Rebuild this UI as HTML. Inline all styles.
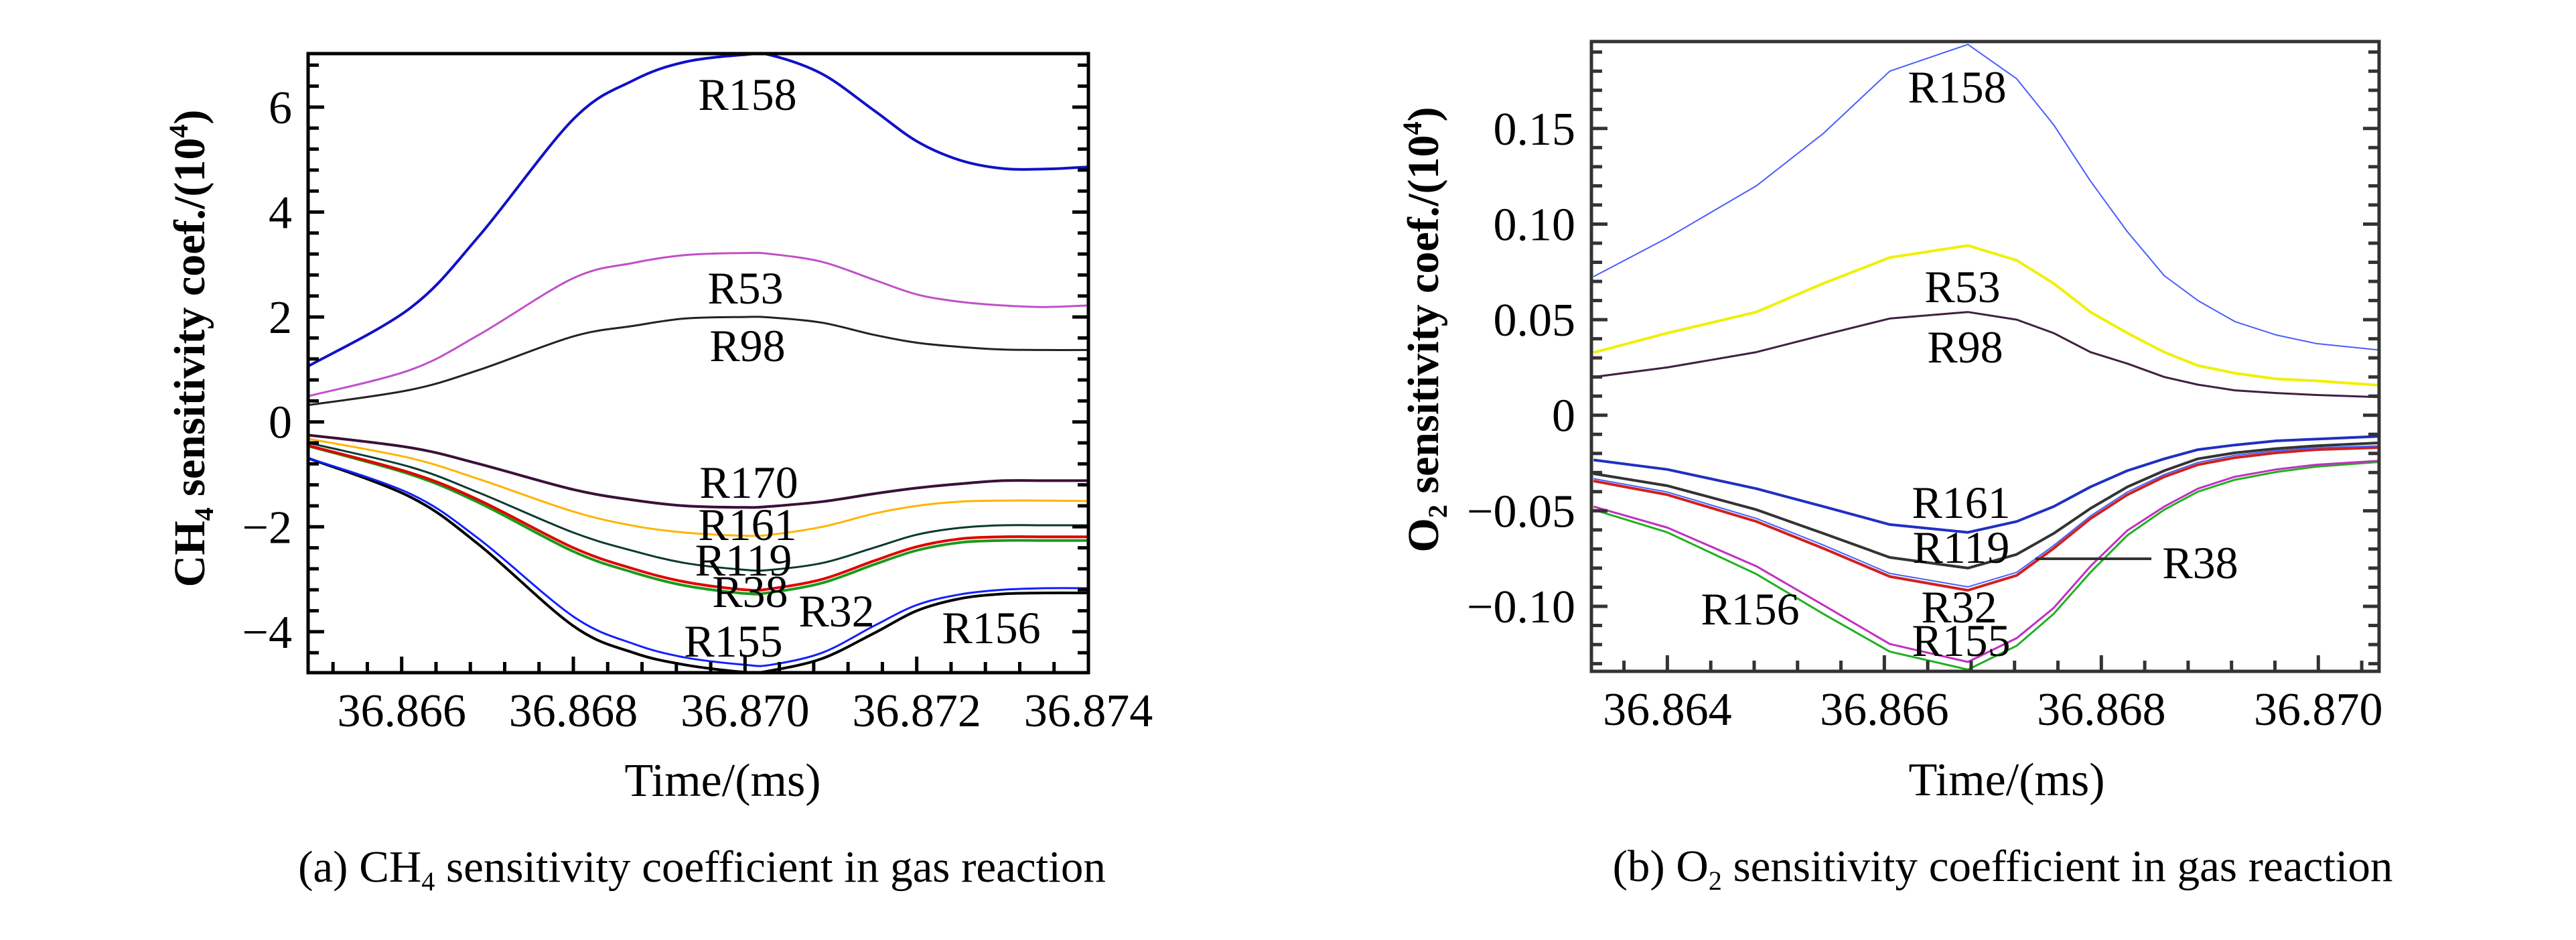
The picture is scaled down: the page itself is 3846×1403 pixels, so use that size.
<!DOCTYPE html>
<html><head><meta charset="utf-8">
<style>
html,body{margin:0;padding:0;background:#fff;}
svg{display:block;font-family:"Liberation Serif",serif;}
</style></head>
<body>
<svg id="fig" width="3846" height="1403" viewBox="0 0 3846 1403" xmlns="http://www.w3.org/2000/svg">
  <g id="pa"></g>
  <g id="pb"></g>
  <text x="0" y="0" transform="translate(305,520) rotate(-90)" text-anchor="middle" font-size="66" font-weight="bold">CH<tspan font-size="40" dy="13">4</tspan><tspan dy="-13"> sensitivity coef./(10</tspan><tspan font-size="40" dy="-25">4</tspan><tspan dy="25">)</tspan></text>
  <text x="1079" y="1188" text-anchor="middle" font-size="70">Time/(ms)</text>
  <text x="1048" y="1316" text-anchor="middle" font-size="67">(a) CH<tspan font-size="40" dy="13">4</tspan><tspan dy="-13"> sensitivity coefficient in gas reaction</tspan></text>
  <text x="0" y="0" transform="translate(2147,492) rotate(-90)" text-anchor="middle" font-size="66" font-weight="bold">O<tspan font-size="40" dy="13">2</tspan><tspan dy="-13"> sensitivity coef./(10</tspan><tspan font-size="40" dy="-25">4</tspan><tspan dy="25">)</tspan></text>
  <text x="2996" y="1187" text-anchor="middle" font-size="70">Time/(ms)</text>
  <text x="2990" y="1315" text-anchor="middle" font-size="67">(b) O<tspan font-size="40" dy="13">2</tspan><tspan dy="-13"> sensitivity coefficient in gas reaction</tspan></text>
</svg>
<script>
// ---- Chart (a) CH4 data ----
const timeA = [36.86491, 36.8661, 36.8669, 36.8680, 36.8687, 36.8693, 36.8700, 36.8703, 36.8709, 36.8715, 36.8720, 36.8725, 36.8730, 36.8735, 36.8740];
const aR158 = [1.06, 2.17, 3.54, 5.77, 6.51, 6.86, 7.0, 6.99, 6.63, 5.94, 5.35, 4.99, 4.83, 4.82, 4.86];
const aR53  = [0.49, 0.99, 1.66, 2.74, 3.03, 3.18, 3.22, 3.2, 3.05, 2.71, 2.43, 2.29, 2.22, 2.19, 2.22];
const aR98  = [0.32, 0.61, 0.99, 1.63, 1.83, 1.97, 2.0, 1.99, 1.89, 1.66, 1.51, 1.43, 1.38, 1.37, 1.37];
const aR170 = [-0.25, -0.49, -0.8, -1.29, -1.49, -1.6, -1.63, -1.61, -1.52, -1.37, -1.26, -1.18, -1.12, -1.12, -1.12];
const aR161 = [-0.32, -0.69, -1.09, -1.71, -1.98, -2.11, -2.17, -2.15, -2.0, -1.75, -1.6, -1.52, -1.5, -1.5, -1.51];
const aR119 = [-0.4, -0.86, -1.35, -2.11, -2.46, -2.69, -2.82, -2.82, -2.69, -2.4, -2.15, -2.02, -1.97, -1.97, -1.97];
const aR38  = [-0.45, -0.97, -1.49, -2.4, -2.8, -3.05, -3.2, -3.18, -3.0, -2.65, -2.38, -2.23, -2.19, -2.19, -2.19];
const aR32  = [-0.46, -1.0, -1.54, -2.47, -2.87, -3.12, -3.27, -3.25, -3.07, -2.72, -2.45, -2.3, -2.26, -2.26, -2.26];
const aR155 = [-0.69, -1.37, -2.23, -3.71, -4.23, -4.49, -4.63, -4.63, -4.4, -3.89, -3.49, -3.29, -3.2, -3.17, -3.17];
const aR156 = [-0.69, -1.43, -2.34, -3.89, -4.4, -4.63, -4.77, -4.74, -4.51, -4.03, -3.6, -3.37, -3.28, -3.26, -3.26];
const aXTicks = [36.866, 36.868, 36.870, 36.872, 36.874];
const aXTickLabels = ["36.866", "36.868", "36.870", "36.872", "36.874"];
const aYTicks = [-4, -2, 0, 2, 4, 6];
const aYTickLabels = ["\u22124", "\u22122", "0", "2", "4", "6"];

// ---- Chart (b) O2 data ----
const timeB = [36.86332, 36.864, 36.86482, 36.86544, 36.86605, 36.86677, 36.86722, 36.86756, 36.8679, 36.86824, 36.86858, 36.86889, 36.86923, 36.86961, 36.86998, 36.87058];
const bR158 = [0.0725, 0.0928, 0.12, 0.1475, 0.18, 0.194, 0.176, 0.152, 0.1225, 0.096, 0.073, 0.06, 0.049, 0.042, 0.0375, 0.034];
const bR53  = [0.0328, 0.043, 0.054, 0.069, 0.0825, 0.0888, 0.081, 0.069, 0.054, 0.043, 0.033, 0.026, 0.022, 0.019, 0.018, 0.0156];
const bR98  = [0.02, 0.025, 0.033, 0.042, 0.0506, 0.054, 0.05, 0.043, 0.033, 0.027, 0.02, 0.016, 0.013, 0.0116, 0.0106, 0.0094];
const bR161 = [-0.0234, -0.0284, -0.0384, -0.0478, -0.0572, -0.0613, -0.0556, -0.0478, -0.0375, -0.029, -0.0228, -0.018, -0.0156, -0.0134, -0.0125, -0.011];
const bR119 = [-0.0306, -0.0369, -0.0494, -0.0619, -0.0744, -0.08, -0.0728, -0.0619, -0.0488, -0.0375, -0.029, -0.0228, -0.0197, -0.0175, -0.016, -0.0144];
const bR38  = [-0.0332, -0.0402, -0.054, -0.068, -0.0828, -0.0898, -0.0822, -0.0682, -0.0527, -0.0402, -0.031, -0.0247, -0.021, -0.0186, -0.017, -0.016];
const bR32  = [-0.0344, -0.0416, -0.0556, -0.0697, -0.0844, -0.0916, -0.0838, -0.0697, -0.0541, -0.0416, -0.0322, -0.0259, -0.0222, -0.0197, -0.018, -0.0169];
const bR155 = [-0.0478, -0.0588, -0.079, -0.0994, -0.1197, -0.1291, -0.1166, -0.1009, -0.079, -0.0603, -0.0478, -0.0384, -0.0322, -0.0284, -0.0259, -0.0238];
const bR156 = [-0.0494, -0.0613, -0.0831, -0.104, -0.1237, -0.1331, -0.1206, -0.104, -0.0822, -0.0628, -0.0494, -0.04, -0.0338, -0.0297, -0.0269, -0.0244];
const bXTicks = [36.864, 36.866, 36.868, 36.870];
const bXTickLabels = ["36.864", "36.866", "36.868", "36.870"];
const bYTicks = [-0.10, -0.05, 0, 0.05, 0.10, 0.15];
const bYTickLabels = ["\u22120.10", "\u22120.05", "0", "0.05", "0.10", "0.15"];

const NS = "http://www.w3.org/2000/svg";
function mk(parent, tag, attrs) {
  const e = document.createElementNS(NS, tag);
  for (const k in attrs) e.setAttribute(k, attrs[k]);
  parent.appendChild(e);
  return e;
}

function pathFor(pts, smooth) {
  if (!smooth) return pts.map((p, i) => (i ? "L" : "M") + p[0].toFixed(1) + "," + p[1].toFixed(1)).join(" ");
  let d = "M" + pts[0][0].toFixed(1) + "," + pts[0][1].toFixed(1);
  for (let i = 0; i < pts.length - 1; i++) {
    const p0 = pts[Math.max(0, i - 1)], p1 = pts[i], p2 = pts[i + 1], p3 = pts[Math.min(pts.length - 1, i + 2)];
    const c1x = p1[0] + (p2[0] - p0[0]) / 6, c1y = p1[1] + (p2[1] - p0[1]) / 6;
    const c2x = p2[0] - (p3[0] - p1[0]) / 6, c2y = p2[1] - (p3[1] - p1[1]) / 6;
    d += " C" + c1x.toFixed(1) + "," + c1y.toFixed(1) + " " + c2x.toFixed(1) + "," + c2y.toFixed(1) + " " + p2[0].toFixed(1) + "," + p2[1].toFixed(1);
  }
  return d;
}

function drawChart(g, cfg) {
  const sx = v => cfg.x0 + (v - cfg.xmin) / (cfg.xmax - cfg.xmin) * (cfg.x1 - cfg.x0);
  const sy = v => cfg.y1 - (v - cfg.ymin) / (cfg.ymax - cfg.ymin) * (cfg.y1 - cfg.y0);
  const clip = mk(g, "clipPath", {id: cfg.id + "-clip"});
  mk(clip, "rect", {x: cfg.x0, y: cfg.y0, width: cfg.x1 - cfg.x0, height: cfg.y1 - cfg.y0});
  const lines = mk(g, "g", {"clip-path": "url(#" + cfg.id + "-clip)"});
  
  
  cfg.series.forEach(s => {
    const pts = s.vals.map((v, i) => [sx(cfg.time[i]), sy(v)]);
    const p = mk(lines, "path", {d: pathFor(pts, cfg.smooth), fill: "none", stroke: s.color, "stroke-width": s.w, "stroke-linejoin": "round"});
    
    
  });
  const ax = mk(g, "g", {stroke: cfg.axisColor, "stroke-width": 5});
  
  
  for (let v = cfg.yMinorStart; v <= cfg.ymax + 1e-9; v += cfg.yMinor) {
    const y = sy(v);
    if (y < cfg.y0 + 4 || y > cfg.y1 - 4) continue;
    const major = cfg.yTicks.some(t => Math.abs(t - v) < cfg.yMinor / 10);
    const L = major ? 24 : 16;
    mk(ax, "line", {x1: cfg.x0, y1: y, x2: cfg.x0 + L, y2: y});
    mk(ax, "line", {x1: cfg.x1, y1: y, x2: cfg.x1 - L, y2: y});
  }
  for (let v = cfg.xMinorStart; v <= cfg.xmax + 1e-9; v += cfg.xMinor) {
    const x = sx(v);
    if (x < cfg.x0 + 4 || x > cfg.x1 - 4) continue;
    const major = cfg.xTicks.some(t => Math.abs(t - v) < cfg.xMinor / 10);
    mk(ax, "line", {x1: x, y1: cfg.y1, x2: x, y2: cfg.y1 - (major ? 24 : 16)});
  }
  const frame = mk(ax, "rect", {x: cfg.x0, y: cfg.y0, width: cfg.x1 - cfg.x0, height: cfg.y1 - cfg.y0, fill: "none"});
  
  
  cfg.yTicks.forEach((t, i) => {
    const tx = mk(g, "text", {x: cfg.x0 - 24, y: sy(t) + 24, "text-anchor": "end", "font-size": 70});
    tx.textContent = cfg.yTickLabels[i];
    
    
  });
  cfg.xTicks.forEach((t, i) => {
    const tx = mk(g, "text", {x: sx(t), y: cfg.y1 + 80, "text-anchor": "middle", "font-size": 70});
    tx.textContent = cfg.xTickLabels[i];
    
    
  });
  cfg.labels.forEach(l => {
    const tx = mk(g, "text", {x: l[1], y: l[2] + 24, "text-anchor": "middle", "font-size": 68});
    tx.textContent = l[0];
    
    
  });
  if (cfg.leader) {
    const ln = mk(g, "line", {x1: cfg.leader[0], y1: cfg.leader[1], x2: cfg.leader[2], y2: cfg.leader[1], stroke: "#333", "stroke-width": 4});
    
    
  }
}

drawChart(document.getElementById("pa"), {
  id: "a", x0: 460, x1: 1625, y0: 80, y1: 1004, smooth: true,
  xmin: 36.86491, xmax: 36.874, ymin: -4.78, ymax: 7.02,
  time: timeA, axisColor: "#000",
  xTicks: aXTicks, xTickLabels: aXTickLabels, yTicks: aYTicks, yTickLabels: aYTickLabels,
  yMinor: 0.4, yMinorStart: -4.8, xMinor: 0.0004, xMinorStart: 36.8652,
  series: [
    {name: "R158", vals: aR158, color: "#1010c8", w: 4},
    {name: "R53", vals: aR53, color: "#c050c8", w: 3},
    {name: "R98", vals: aR98, color: "#222", w: 3},
    {name: "R170", vals: aR170, color: "#3a1038", w: 4},
    {name: "R161", vals: aR161, color: "#ffb400", w: 3},
    {name: "R119", vals: aR119, color: "#0a3a30", w: 3},
    {name: "R32", vals: aR32, color: "#1a9a1a", w: 4},
    {name: "R38", vals: aR38, color: "#e00000", w: 4},
    {name: "R156", vals: aR156, color: "#000", w: 4},
    {name: "R155", vals: aR155, color: "#1020ff", w: 3}
  ],
  labels: [["R158",1116,140],["R53",1113,429],["R98",1116,515],["R170",1118,719],["R161",1116,782],["R119",1110,835],["R38",1120,882],["R32",1249,911],["R155",1095,956],["R156",1480,936]]
});

drawChart(document.getElementById("pb"), {
  id: "b", x0: 2376, x1: 3552, y0: 62, y1: 1002, smooth: false,
  xmin: 36.8633, xmax: 36.87056, ymin: -0.134, ymax: 0.1955,
  time: timeB, axisColor: "#333",
  xTicks: bXTicks, xTickLabels: bXTickLabels, yTicks: bYTicks, yTickLabels: bYTickLabels,
  yMinor: 0.01, yMinorStart: -0.13, xMinor: 0.0004, xMinorStart: 36.8636,
  series: [
    {name: "R158", vals: bR158, color: "#4a5cff", w: 2},
    {name: "R53", vals: bR53, color: "#f0f000", w: 4},
    {name: "R98", vals: bR98, color: "#402040", w: 3},
    {name: "R161", vals: bR161, color: "#2030c0", w: 4},
    {name: "R119", vals: bR119, color: "#333", w: 4},
    {name: "R32", vals: bR32, color: "#d02020", w: 4},
    {name: "R38", vals: bR38, color: "#4060ff", w: 2},
    {name: "R156", vals: bR156, color: "#20b020", w: 3},
    {name: "R155", vals: bR155, color: "#c030c0", w: 3}
  ],
  labels: [["R158",2922,129],["R53",2930,427],["R98",2934,517],["R161",2928,749],["R119",2928,816],["R38",3285,839],["R32",2925,905],["R155",2928,955],["R156",2613,908]],
  leader: [3039, 834, 3212]
});
</script>
</body></html>
